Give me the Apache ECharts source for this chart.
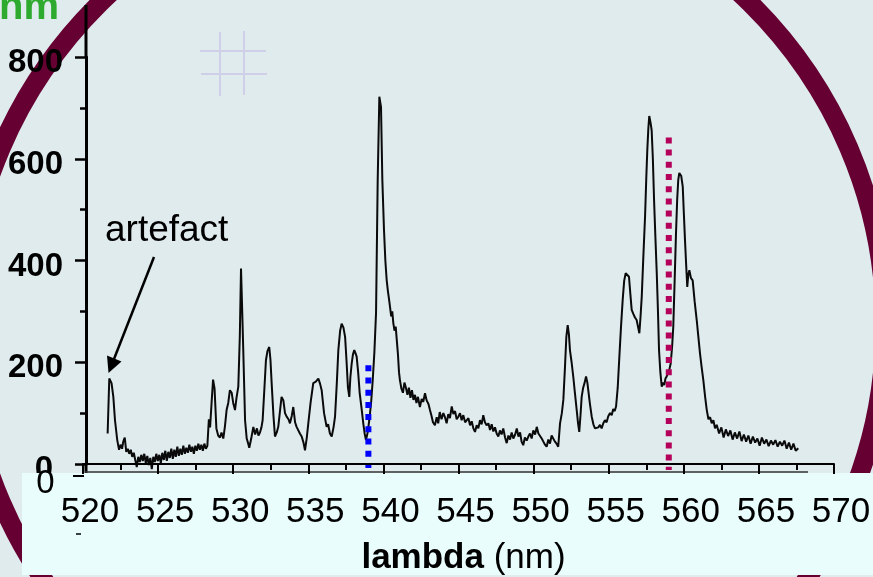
<!DOCTYPE html>
<html><head><meta charset="utf-8">
<script src="https://cdn.jsdelivr.net/npm/echarts@6/dist/echarts.min.js"></script>
<style>html,body{margin:0;padding:0;background:#e0ebee;}#c{width:873px;height:577px;}</style>
</head><body><div id="c"></div>
<script>
// ---- data ----
const wavelength = [
521.64,521.75,521.90,522.02,522.13,522.28,522.40,522.50,522.60,522.68,522.78,522.88,522.98,523.08,523.18,523.28,523.38,523.48,523.58,523.68,523.78,523.88,523.98,524.08,524.18,524.28,524.38,524.48,524.58,524.68,524.78,524.88,524.98,525.08,525.18,525.28,525.38,525.48,525.58,525.68,525.78,525.88,525.98,526.08,526.18,526.28,526.38,526.48,526.58,526.68,526.78,526.88,526.98,527.08,527.18,527.28,527.38,527.48,527.58,527.68,527.78,527.88,527.98,528.08,528.18,528.28,
528.38,528.46,528.56,528.66,528.76,528.88,529.00,529.12,529.22,529.34,529.45,529.56,529.67,529.78,529.90,530.00,530.12,530.22,530.34,530.44,530.52,530.60,530.67,530.79,530.90,531.00,531.07,531.20,531.34,531.46,531.58,531.68,531.78,531.88,531.96,532.08,532.18,532.28,532.40,532.48,532.56,532.68,532.78,532.90,533.00,533.10,533.22,533.34,533.45,533.56,533.68,533.78,533.90,534.00,534.12,534.22,534.32,534.44,534.56,534.68,534.78,534.90,535.00,535.15,535.33,535.50,535.67,535.78,535.89,536.05,536.22,536.32,536.44,536.56,536.68,536.78,536.90,537.00,537.12,537.22,537.34,537.45,537.55,537.64,537.73,537.80,537.89,537.97,538.06,538.14,538.22,538.32,538.42,538.56,538.66,538.75,538.84,538.95,539.06,539.18,539.29,539.40,539.51,539.62,539.73,539.84,539.93,540.04,540.13,540.22,540.30,540.37,540.44,540.52,540.59,540.66,540.74,540.82,540.89,540.97,541.04,
541.10,541.20,541.30,541.40,541.50,541.60,541.70,541.80,541.90,542.00,542.10,542.20,542.30,542.43,542.55,542.65,542.77,542.88,543.00,543.10,543.20,543.30,543.43,543.55,543.65,543.75,543.87,543.99,544.10,544.21,544.32,544.43,544.55,544.66,544.77,544.88,544.99,545.10,545.21,545.32,545.44,545.55,545.66,545.77,545.88,545.99,546.10,546.21,546.32,546.43,546.54,546.65,546.76,546.87,546.99,547.10,547.21,547.32,547.43,547.54,547.65,547.76,547.87,547.98,548.10,548.21,548.32,548.43,548.54,548.65,548.77,548.88,548.99,549.10,549.20,549.31,549.42,549.54,549.65,549.76,549.87,549.98,550.10,550.21,550.32,550.43,550.54,550.65,550.76,550.87,550.98,551.09,551.20,551.31,551.42,551.53,551.64,
551.76,551.88,551.98,552.09,552.18,552.27,552.35,552.42,552.53,552.64,552.75,552.87,552.96,553.04,553.12,553.20,553.30,553.40,553.49,553.58,553.64,553.75,553.87,553.98,554.09,554.20,554.31,554.42,554.53,554.64,554.75,554.86,554.97,555.09,555.20,555.30,555.40,555.49,555.60,555.71,555.82,555.93,556.03,556.13,556.24,556.35,556.44,556.53,556.64,556.75,556.86,556.95,557.04,557.12,557.20,557.31,557.42,557.50,557.57,557.64,557.70,557.78,557.86,557.94,558.02,558.11,558.20,558.28,558.35,558.44,558.53,558.62,558.70,558.78,558.86,558.95,559.04,559.13,559.22,559.30,559.39,559.48,559.56,559.63,559.70,559.75,559.83,559.93,560.00,560.08,560.16,560.23,560.30,560.37,560.47,560.59,560.72,560.86,560.97,561.08,561.19,561.30,561.42,561.53,561.64,561.75,561.86,561.97,562.08,562.19,
562.35,562.50,562.65,562.80,562.95,563.10,563.25,563.40,563.55,563.70,563.85,564.00,564.15,564.30,564.45,564.60,564.75,564.90,565.05,565.20,565.35,565.50,565.65,565.80,565.95,566.10,566.25,566.40,566.55,566.70,566.85,567.00,567.15,567.30,567.45,567.62
];
const intensity = [
60,168,159,132,86,47,28,38,30,44,52,24,30,20,28,14,22,8,-6,14,4,18,6,20,2,16,-2,12,-10,14,4,20,6,18,2,22,8,26,6,24,12,30,10,28,14,34,16,30,18,36,20,32,22,38,24,34,20,36,26,40,28,38,26,40,30,36,
88,72,120,166,148,70,56,52,62,50,74,106,120,145,140,120,106,130,152,250,384,300,224,86,50,40,32,50,73,58,70,56,62,72,86,150,204,222,230,205,159,95,54,62,73,100,132,125,100,93,88,80,95,112,82,73,76,60,54,42,27,52,80,120,159,162,168,158,145,100,73,78,60,54,72,93,160,224,262,276,268,250,200,150,132,170,198,215,224,218,211,180,140,106,80,60,47,62,86,120,165,220,297,558,722,702,558,460,400,361,340,325,309,290,300,277,262,270,244,215,180,
165,148,140,160,150,136,150,130,145,126,136,120,132,112,128,122,139,125,118,106,95,82,76,92,80,102,88,100,92,80,98,90,113,98,104,88,93,100,86,96,82,80,90,76,84,70,63,76,70,86,78,96,82,76,80,67,78,64,72,60,54,66,58,70,52,41,56,48,62,50,58,70,54,62,44,37,52,46,54,60,50,66,58,73,60,63,50,44,38,34,48,40,56,54,44,40,34,
80,100,126,191,250,273,255,224,200,172,140,106,80,63,95,132,150,160,172,160,145,118,93,78,70,67,72,77,70,80,86,82,94,100,96,108,104,113,150,211,270,322,360,375,372,368,335,303,295,288,283,270,257,290,329,410,486,560,617,660,684,672,656,600,519,445,375,300,224,180,152,160,155,168,172,180,186,198,230,270,360,453,520,558,572,574,566,545,495,440,390,348,372,381,366,361,320,283,250,217,190,165,132,106,88,92,80,86,70,77,
60,72,52,68,55,66,48,62,50,64,45,58,44,56,40,54,42,50,36,52,40,48,35,46,38,47,34,44,36,46,30,42,28,40,26,31
];
const xRange = [520, 570];
const yRange = [0, 800];
const blueMarker = [[539.0, 194], [539.0, -8]];
const redMarker = [[559.0, 642], [559.0, -12]];
const xTitle = ['lambda', '(nm)'];
const annotationText = 'artefact';
const unitText = 'nm';

const F = '"Liberation Sans", Arial, sans-serif';
const chart = echarts.init(document.getElementById('c'), null, {renderer: 'canvas'});
chart.setOption({
  animation: false,
  backgroundColor: '#e0ebee',
  grid: {left: 83, right: 39, top: 57, bottom: 113, containLabel: false, outerBoundsMode: 'none'},
  xAxis: {
    type: 'value', min: xRange[0], max: xRange[1], interval: 5, offset: 12, z: 8,
    axisLine: {lineStyle: {color: '#000', width: 2}},
    axisTick: {show: true, length: 10, lineStyle: {color: '#000', width: 2}},
    minorTick: {show: true, splitNumber: 2, length: 6, lineStyle: {color: '#000', width: 2}},
    splitLine: {show: false},
    axisLabel: {color: '#000', fontSize: 35, fontFamily: F, margin: 19, padding: [0, 0, 0, 14]},
    name: '{b|' + xTitle[0] + '} ' + xTitle[1], nameLocation: 'middle', nameGap: 65,
    nameTextStyle: {color: '#000', fontSize: 35, fontFamily: F, padding: [0, 0, 0, 10],
      rich: {b: {fontWeight: 'bold', fontSize: 35, fontFamily: F, color: '#000'}}}
  },
  yAxis: {
    type: 'value', min: yRange[0], max: yRange[1], interval: 200, offset: -3, z: 2,
    axisLine: {show: true, lineStyle: {color: '#000', width: 3}},
    axisTick: {show: true, length: 11, lineStyle: {color: '#000', width: 2.5}},
    minorTick: {show: true, splitNumber: 2, length: 6, lineStyle: {color: '#000', width: 2.5}},
    splitLine: {show: false},
    axisLabel: {color: '#000', fontSize: 33, fontWeight: 'bold', fontFamily: F, margin: 23, padding: [12, 0, 0, 0],
      formatter: v => v === 0 ? '{z|0}' : String(v),
      rich: {z: {fontWeight: 'bold', fontSize: 33, fontFamily: F, color: '#000', padding: [0, 10, 0, 0]}}}
  },
  series: [
    {type: 'line', data: wavelength.map((w, i) => [w, intensity[i]]), symbol: 'none', showSymbol: false,
     clip: false, z: 3, lineStyle: {color: '#0a0a0a', width: 2}},
    {type: 'line', data: blueMarker, symbol: 'none', clip: false, z: 3,
     lineStyle: {color: '#0000ff', width: 6, type: [6, 6.2], cap: 'butt'}},
    {type: 'line', data: redMarker, symbol: 'none', clip: false, z: 3,
     lineStyle: {color: '#b5005b', width: 6, type: [6, 6.2], cap: 'butt'}}
  ],
  graphic: [
    {type: 'ellipse', z: 0, silent: true, shape: {cx: 425, cy: 325, rx: 460, ry: 455}, style: {fill: 'none', stroke: '#660033', lineWidth: 19}},
    {type: 'line', z: 1, shape: {x1: 220, y1: 32, x2: 220, y2: 96}, style: {stroke: '#cfcfe8', lineWidth: 2}},
    {type: 'line', z: 1, shape: {x1: 244, y1: 31, x2: 244, y2: 95}, style: {stroke: '#cfcfe8', lineWidth: 2}},
    {type: 'line', z: 1, shape: {x1: 200, y1: 51, x2: 266, y2: 51}, style: {stroke: '#cfcfe8', lineWidth: 2}},
    {type: 'line', z: 1, shape: {x1: 201, y1: 74, x2: 267, y2: 74}, style: {stroke: '#cfcfe8', lineWidth: 2}},
    {type: 'line', z: 2, shape: {x1: 86, y1: 5, x2: 86, y2: 58}, style: {stroke: '#000', lineWidth: 3}},
    {type: 'line', z: 2, shape: {x1: 86, y1: 463, x2: 86, y2: 473}, style: {stroke: '#000', lineWidth: 3}},
    {type: 'line', z: 2, shape: {x1: 85, y1: 472, x2: 808, y2: 472}, style: {stroke: '#333', lineWidth: 1.5}},
    {type: 'rect', z: 6, shape: {x: 22, y: 473, width: 851, height: 102}, style: {fill: '#eafdfd'}},
    {type: 'line', z: 8, shape: {x1: 73, y1: 476, x2: 84, y2: 476}, style: {stroke: '#000', lineWidth: 2}},
    {type: 'line', z: 8, shape: {x1: 76, y1: 534, x2: 81, y2: 534}, style: {stroke: '#000', lineWidth: 1.5}},
    {type: 'text', z: 7, x: 45.5, y: 484, style: {text: '0', font: '33px ' + F, fill: '#000', textAlign: 'center', textVerticalAlign: 'middle'}},
    {type: 'text', z: 7, x: -1, y: 8, style: {text: unitText, font: 'bold 40px ' + F, fill: '#2eaa2e', textAlign: 'left', textVerticalAlign: 'middle'}},
    {type: 'text', z: 7, x: 105, y: 231, style: {text: annotationText, font: '37px ' + F, fill: '#000', textAlign: 'left', textVerticalAlign: 'middle'}},
    {type: 'line', z: 7, shape: {x1: 154, y1: 257, x2: 114, y2: 359}, style: {stroke: '#000', lineWidth: 2.5}},
    {type: 'polygon', z: 7, shape: {points: [[107, 355.5], [121.5, 361.5], [108.5, 373]]}, style: {fill: '#000'}}
  ]
});
</script></body></html>
